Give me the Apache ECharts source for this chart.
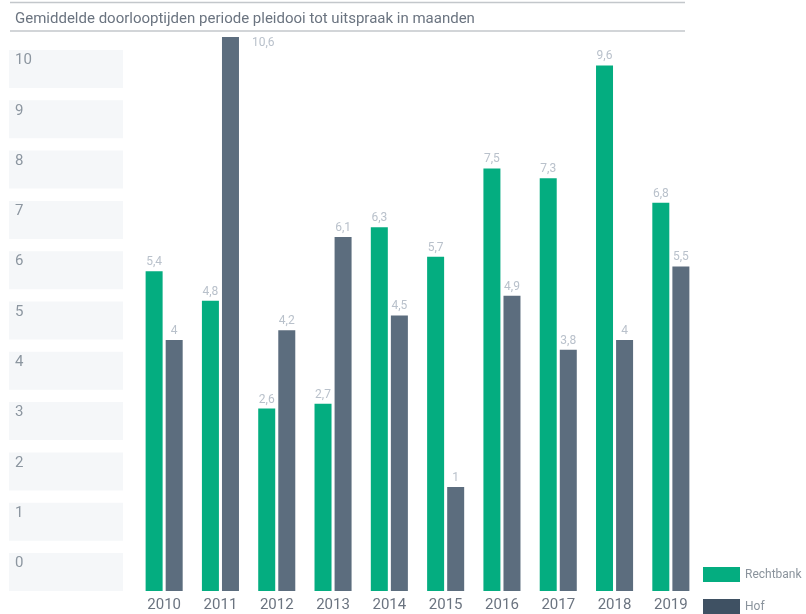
<!DOCTYPE html>
<html>
<head>
<meta charset="utf-8">
<script src="https://cdn.jsdelivr.net/npm/echarts@6/dist/echarts.min.js"></script>
<style>
html,body{margin:0;padding:0;background:#fff;}
#chart{width:806px;height:614px;}
</style>
</head>
<body>
<div id="chart"></div>
<script>
const titleText = 'Gemiddelde doorlooptijden periode pleidooi tot uitspraak in maanden';
const years = ['2010','2011','2012','2013','2014','2015','2016','2017','2018','2019'];
const rechtbank = [5.4, 4.8, 2.6, 2.7, 6.3, 5.7, 7.5, 7.3, 9.6, 6.8];
const hof = [4, 10.6, 4.2, 6.1, 4.5, 1, 4.9, 3.8, 4, 5.5];
const tickValues = [0, 1, 2, 3, 4, 5, 6, 7, 8, 9, 10];

const GREEN = '#04ad80';
const SLATE = '#5c6d7e';
const fmt = p => String(p.value).replace('.', ',');

const chart = echarts.init(document.getElementById('chart'), null, {renderer: 'canvas'});
const hofMax = Math.max(...hof);

const legendCommon = {
  orient: 'vertical', left: 703, padding: 0,
  itemWidth: 37, itemHeight: 15, itemGap: 8,
  icon: 'rect',
  textStyle: {fontSize: 12, color: '#8a939c'}
};

const option = {
  animation: false,
  backgroundColor: '#ffffff',
  textStyle: {fontFamily: 'Roboto, "Open Sans", sans-serif'},
  title: {
    text: titleText,
    left: 10, top: 7,
    textStyle: {fontSize: 15, fontWeight: 'normal', color: '#6b7480', fontFamily: 'Roboto, sans-serif'}
  },
  graphic: [
    {type: 'line', shape: {x1: 10, y1: 2.5, x2: 685, y2: 2.5}, style: {stroke: '#c3c7cb', lineWidth: 1.5}},
    {type: 'line', shape: {x1: 10, y1: 31, x2: 685, y2: 31}, style: {stroke: '#c3c7cb', lineWidth: 1.5}}
  ],
  legend: [
    Object.assign({}, legendCommon, {top: 567, data: [{name: 'Rechtbank'}]}),
    Object.assign({}, legendCommon, {top: 599, data: [{name: 'Hof', itemStyle: {color: '#3f5163'}}]})
  ],
  grid: [
    {left: 136, right: 107, top: 37, bottom: 23},
    {left: 9, width: 114, top: 50, bottom: 61}
  ],
  xAxis: [
    {
      type: 'category', gridIndex: 0, data: years,
      axisLine: {show: false}, axisTick: {show: false},
      axisLabel: {fontSize: 15, color: '#6b7480', margin: 7}
    },
    {type: 'value', gridIndex: 1, show: false}
  ],
  yAxis: [
    {type: 'value', gridIndex: 0, min: -1.12, max: 10.18, startValue: -1.12, show: false},
    {
      type: 'value', gridIndex: 1, min: tickValues[0], max: tickValues[tickValues.length - 1], interval: 1,
      axisLine: {show: false}, axisTick: {show: false}, splitLine: {show: false},
      axisLabel: {
        inside: true, margin: 0, align: 'left', verticalAlign: 'top',
        fontSize: 15, color: '#8c96a0',
        backgroundColor: '#f5f7f9',
        width: 108, height: 31, padding: [3, 0, 4, 6]
      }
    }
  ],
  series: [
    {
      name: 'Rechtbank', type: 'bar', xAxisIndex: 0, yAxisIndex: 0,
      data: rechtbank,
      barWidth: 17, barGap: '18%',
      itemStyle: {color: GREEN},
      label: {show: true, position: 'top', distance: 3, fontSize: 12, color: '#b9c1cb', formatter: fmt}
    },
    {
      name: 'Hof', type: 'bar', xAxisIndex: 0, yAxisIndex: 0,
      data: hof.map(v => v === hofMax ? {value: v, label: {position: [30, 0]}} : v),
      barWidth: 17,
      itemStyle: {color: SLATE},
      label: {show: true, position: 'top', distance: 3, fontSize: 12, color: '#b9c1cb', formatter: fmt}
    }
  ]
};
chart.setOption(option);
</script>
</body>
</html>
